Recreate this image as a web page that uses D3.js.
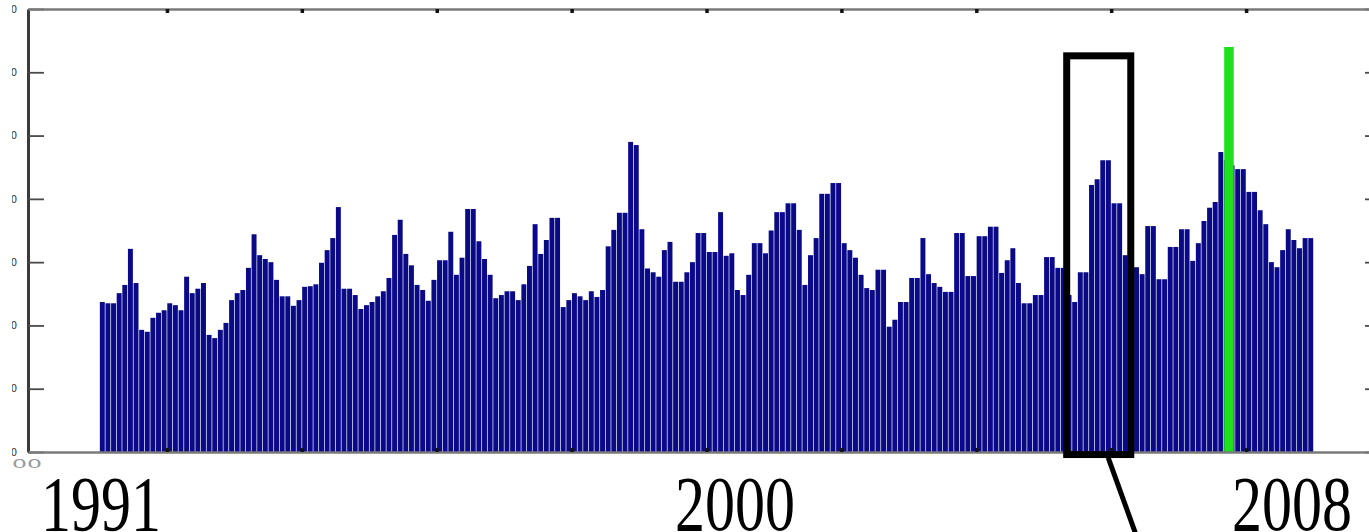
<!DOCTYPE html>
<html>
<head>
<meta charset="utf-8">
<script src="https://cdn.jsdelivr.net/npm/d3@7/dist/d3.min.js"></script>
<style>
  html, body { margin: 0; padding: 0; background: #fff; }
  svg { display: block; }
</style>
</head>
<body>
<div id="chart"></div>
<script>
// monthly values, one array per year (Jan..Dec)
const y1991 = [237, 235, 235, 251, 264, 321, 267, 193, 190, 212, 220, 224];
const y1992 = [235, 232, 224, 277, 251, 258, 267, 185, 180, 193, 204, 240];
const y1993 = [251, 256, 291, 344, 311, 305, 300, 272, 246, 246, 231, 240];
const y1994 = [261, 262, 265, 299, 319, 338, 387, 258, 258, 248, 226, 232];
const y1995 = [237, 246, 254, 275, 343, 367, 313, 295, 264, 256, 239, 272];
const y1996 = [303, 303, 348, 280, 307, 384, 384, 333, 305, 280, 243, 248];
const y1997 = [254, 254, 240, 265, 294, 360, 313, 335, 370, 370, 229, 240];
const y1998 = [251, 246, 240, 254, 245, 256, 325, 351, 378, 378, 490, 485];
const y1999 = [352, 290, 284, 277, 319, 332, 269, 269, 284, 300, 346, 346];
const y2000 = [316, 316, 379, 310, 314, 256, 248, 280, 330, 330, 314, 350];
const y2001 = [379, 379, 393, 393, 351, 264, 311, 338, 408, 408, 425, 425];
const y2002 = [330, 319, 307, 280, 259, 256, 288, 288, 198, 209, 237, 237];
const y2003 = [275, 275, 338, 281, 267, 261, 253, 253, 346, 346, 278, 278];
const y2004 = [341, 341, 356, 356, 283, 303, 322, 267, 235, 235, 248, 248];
const y2005 = [308, 308, 291, 291, 248, 237, 284, 284, 422, 431, 461, 461];
const y2006 = [393, 393, 311, 303, 292, 281, 357, 357, 273, 273, 324, 324];
const y2007 = [352, 352, 302, 330, 365, 386, 395, 474, 461, 453, 447, 447];
const y2008 = [411, 411, 382, 360, 300, 292, 319, 352, 335, 322, 338, 338];

const firstYear = 1991;
const series = [y1991, y1992, y1993, y1994, y1995, y1996, y1997, y1998, y1999,
  y2000, y2001, y2002, y2003, y2004, y2005, y2006, y2007, y2008].flat();

// highlighted month (green) and the boxed period
const highlightDate = 2007.746;
const highlightValue = 640;
const boxDates = [2005.34, 2006.29];
const boxValues = [-4, 626];

const xTickValues = [1992, 1994, 1996, 1998, 2000, 2002, 2004, 2006, 2008];
const yTickValues = [0, 100, 200, 300, 400, 500, 600, 700];
const yearLabels = ['1991', '2000', '2008'];
const yearLabelX = [101, 735, 1292];

const width = 1369, height = 532;

const x = d3.scaleLinear().domain([1989.94, 2010]).range([28, 1381]);
const y = d3.scaleLinear().domain([0, 700]).range([452, 9]);

const pitch = x(firstYear + 1 / 12) - x(firstYear);
const barW = pitch * 0.88;

const svg = d3.select('#chart').append('svg')
    .attr('width', width)
    .attr('height', height);

svg.append('rect').attr('width', width).attr('height', height).attr('fill', '#fff');

const data = series.map((v, i) => ({ t: firstYear + (i + 0.5) / 12, v: v }));

svg.append('g')
    .attr('class', 'bars')
  .selectAll('rect')
    .data(data)
  .enter().append('rect')
    .attr('x', d => x(d.t) - barW / 2)
    .attr('width', barW)
    .attr('y', d => y(d.v))
    .attr('height', d => y(0) - y(d.v))
    .attr('fill', '#0a0a88');

// green highlight
svg.append('rect')
    .attr('x', x(highlightDate) - pitch * 0.85)
    .attr('width', pitch * 1.7)
    .attr('y', y(highlightValue))
    .attr('height', y(0) - y(highlightValue))
    .attr('fill', '#1fe01f');

// axes
svg.append('defs').append('clipPath')
    .attr('id', 'ylab-clip')
  .append('rect')
    .attr('x', -16).attr('y', -9)
    .attr('width', 7).attr('height', 18);

const yLeft = svg.append('g')
    .attr('transform', `translate(${x.range()[0]},0)`)
    .call(d3.axisLeft(y).tickValues(yTickValues).tickSize(-16).tickSizeOuter(0).tickPadding(11));
yLeft.select('.domain').attr('stroke', '#3a3a3a').attr('stroke-width', 3);
yLeft.selectAll('.tick line').attr('stroke', '#4a4a4a').attr('stroke-width', 1.8);
yLeft.selectAll('.tick text')
    .attr('clip-path', 'url(#ylab-clip)')
    .attr('fill', '#333')
    .style('font', '10px "DejaVu Sans", sans-serif');

const yRight = svg.append('g')
    .attr('transform', `translate(${x.range()[1]},0)`)
    .call(d3.axisRight(y).tickValues(yTickValues).tickSize(-16).tickSizeOuter(0).tickFormat(''));
yRight.select('.domain').attr('stroke', '#777').attr('stroke-width', 2.5);
yRight.selectAll('.tick line').attr('stroke', '#4a4a4a').attr('stroke-width', 1.8);

const xTop = svg.append('g')
    .attr('transform', `translate(0,${y.range()[1]})`)
    .call(d3.axisTop(x).tickValues(xTickValues).tickSize(-4).tickSizeOuter(0).tickFormat(''));
xTop.select('.domain').attr('stroke', '#7a7a7a').attr('stroke-width', 2.5);
xTop.selectAll('.tick line').attr('stroke', '#111').attr('stroke-width', 3.5);

const xBottom = svg.append('g')
    .attr('transform', `translate(0,${y.range()[0]})`)
    .call(d3.axisBottom(x).tickValues(xTickValues).tickSize(-4).tickSizeOuter(0).tickFormat(''));
xBottom.select('.domain').attr('stroke', '#7a7a7a').attr('stroke-width', 2.5);
xBottom.selectAll('.tick line').attr('stroke', '#111').attr('stroke-width', 3.5);

// remains of the cut-off axis label under the corner
svg.append('text')
    .attr('x', 12).attr('y', 468)
    .attr('textLength', 30).attr('lengthAdjust', 'spacingAndGlyphs')
    .attr('fill', '#9a9a9a')
    .style('font', '12px "DejaVu Sans", sans-serif')
    .text('00');

// box around the marked period
svg.append('rect')
    .attr('x', x(boxDates[0]))
    .attr('y', y(boxValues[1]))
    .attr('width', x(boxDates[1]) - x(boxDates[0]))
    .attr('height', y(boxValues[0]) - y(boxValues[1]))
    .attr('fill', 'none')
    .attr('stroke', '#000')
    .attr('stroke-width', 7);

// pointer line leaving the box
const boxMid = (boxDates[0] + boxDates[1]) / 2;
svg.append('line')
    .attr('x1', x(boxMid + 0.14)).attr('y1', y(boxValues[0]) + 3)
    .attr('x2', x(boxMid + 0.57)).attr('y2', height + 6)
    .attr('stroke', '#000')
    .attr('stroke-width', 5);

// year labels
svg.append('g')
  .selectAll('text')
    .data(yearLabels)
  .enter().append('text')
    .attr('transform', (d, i) => `translate(${yearLabelX[i]},530) scale(1,1.3)`)
    .attr('text-anchor', 'middle')
    .attr('fill', '#000')
    .style('font', '60px "Liberation Serif", "Times New Roman", serif')
    .text(d => d);
</script>
</body>
</html>
